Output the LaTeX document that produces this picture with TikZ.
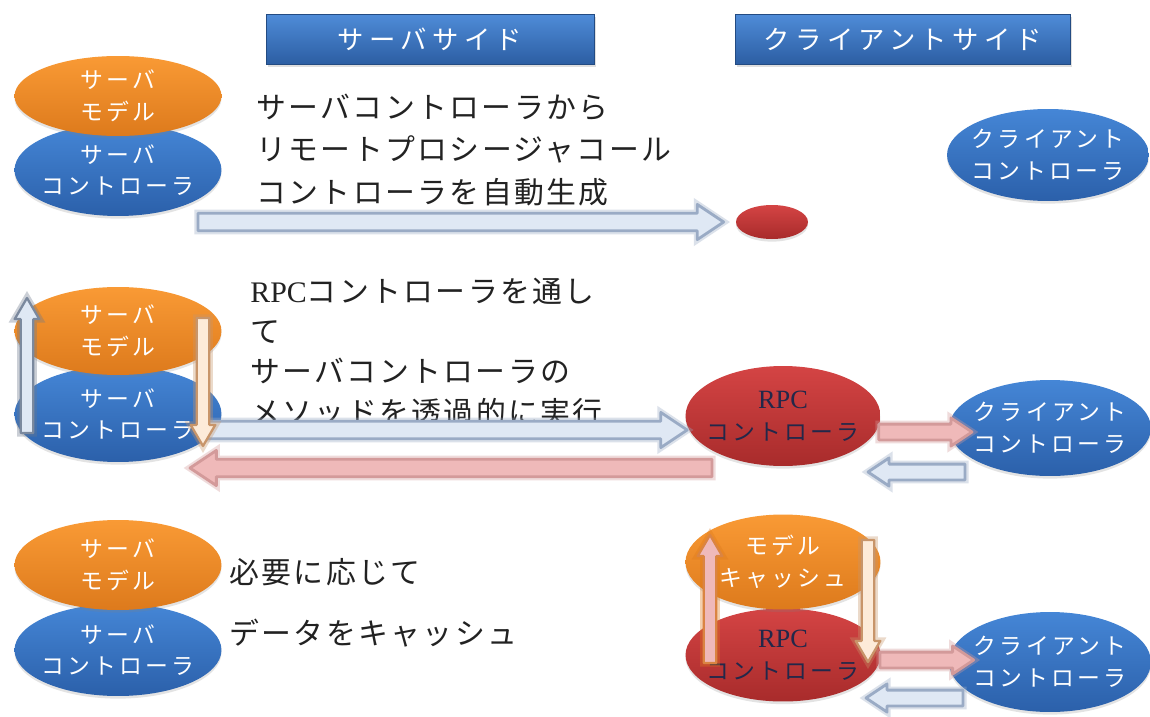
\documentclass[tikz,border=0pt]{standalone}
\usepackage{fontspec}
\setmainfont{Noto Sans CJK JP}
\newfontfamily\rpcfont{Liberation Serif}
\usetikzlibrary{calc,shapes.geometric,shadows}

\definecolor{orangeT}{HTML}{F99A35}
\definecolor{orangeB}{HTML}{DD7A1C}
\definecolor{blueT}{HTML}{4586D6}
\definecolor{blueB}{HTML}{2B60AA}
\definecolor{redT}{HTML}{D44444}
\definecolor{redB}{HTML}{A82B2B}
\definecolor{hdrT}{HTML}{4F8CD8}
\definecolor{hdrB}{HTML}{2C5EA3}
\definecolor{bluefill}{HTML}{DFE8F4}
\definecolor{blueline}{HTML}{9AABC5}
\definecolor{pinkfill}{HTML}{EFB9B9}
\definecolor{pinkline}{HTML}{D39A9A}
\definecolor{peachfill}{HTML}{FDEBD9}
\definecolor{peachline}{HTML}{C8956A}
\definecolor{navytext}{HTML}{22284A}
\definecolor{bodytext}{HTML}{222222}

\newcommand\ovalfont{\fontsize{13pt}{18pt}\selectfont\addfontfeature{LetterSpace=14}}
\newcommand\hdrfont{\fontsize{15pt}{18pt}\selectfont\addfontfeature{LetterSpace=20}}
\newcommand\bodyfontA{\fontsize{17pt}{24pt}\selectfont\addfontfeature{LetterSpace=8}}
\newcommand\bodyfontB{\fontsize{17pt}{22.8pt}\selectfont\addfontfeature{LetterSpace=8}}

% fat block arrow: #1 style, #2 from, #3 to, #4 shaft half width, #5 head half width, #6 head length (pt)
\newcommand\fatarrow[6]{%
  \draw[#1] let \p1=(#2), \p2=(#3), \n1={atan2(\y2-\y1,\x2-\x1)}, \n2={veclen(\x2-\x1,\y2-\y1)} in
    [shift={(\p1)}, rotate=\n1]
    (0pt,-#4pt) -- (\n2-#6pt,-#4pt) -- (\n2-#6pt,-#5pt) -- (\n2,0pt)
    -- (\n2-#6pt,#5pt) -- (\n2-#6pt,#4pt) -- (0pt,#4pt) -- cycle;
}

\tikzset{
  oval/.style={ellipse, inner xsep=-14pt, inner ysep=-4pt, align=center, font=\ovalfont,
    drop shadow={opacity=0.22, shadow xshift=0pt, shadow yshift=-1.5pt}},
  orangeoval/.style={oval, top color=orangeT, bottom color=orangeB, text=white},
  blueoval/.style={oval, top color=blueT, bottom color=blueB, text=white},
  redoval/.style={oval, top color=redT, bottom color=redB, text=navytext},
  header/.style={rectangle, top color=hdrT, bottom color=hdrB, draw=hdrB!80!black,
    line width=0.4pt, text=white, font=\hdrfont, minimum height=1cm,
    drop shadow={opacity=0.25, shadow xshift=1pt, shadow yshift=-1.5pt}},
  bodytxt/.style={anchor=west, align=left, text=bodytext, inner sep=0pt},
  halo/.style={preaction={draw=#1, line width=4pt, opacity=0.35}},
  bluearrow/.style={halo=blueline, fill=bluefill, draw=blueline, line width=1.6pt, line join=round},
  pinkarrow/.style={halo=pinkline, fill=pinkfill, draw=pinkline, line width=1.6pt, line join=round},
  peacharrow/.style={halo=peachline, fill=peachfill, draw=peachline, line width=1.3pt, line join=round},
  paleblue/.style={halo=blueline!70!black, fill=bluefill, draw=blueline!80!black, line width=1.3pt, line join=round},
  pinkup/.style={halo=orangeB, fill=pinkfill, draw=orangeB!70!pinkline, line width=1.3pt, line join=round},
}

\begin{document}
\begin{tikzpicture}[x=0.02cm, y=-0.02cm]
\useasboundingbox (0,0) rectangle (1150,717);
\fill[white] (0,0) rectangle (1150,717);

% headers
\node[header, minimum width=6.56cm] (hs) at (430,39) {サーバサイド};
\node[header, minimum width=6.7cm] (hc) at (903,39) {クライアントサイド};

% ---------- row 1 ----------
\node[blueoval, minimum width=4.14cm, minimum height=1.84cm] (sc1) at (118,170) {サーバ\\コントローラ};
\node[orangeoval, minimum width=4.14cm, minimum height=1.6cm] (sm1) at (118,96) {サーバ\\モデル};
\node[bodytxt, font=\bodyfontA] (t1) at (256,150) {サーバコントローラから\\リモートプロシージャコール\\コントローラを自動生成};
\node[redoval, minimum width=1.44cm, minimum height=0.68cm] (rpc0) at (772,222) {};
\node[blueoval, minimum width=4.04cm, minimum height=1.84cm] (cc1) at (1048,155) {クライアント\\コントローラ};
\coordinate (a1s) at (198,222);
\coordinate (a1e) at ($(rpc0.west)+(-12,0)$);
\fatarrow{bluearrow}{a1s}{a1e}{5}{10}{15}

% ---------- row 2 ----------
\node[blueoval, minimum width=4.14cm, minimum height=1.92cm] (sc2) at (118,414) {サーバ\\コントローラ};
\node[orangeoval, minimum width=4.14cm, minimum height=1.76cm] (sm2) at (118,331) {サーバ\\モデル};
\node[bodytxt, font=\bodyfontB] (t2) at (250,352) {{\rpcfont RPC}コントローラを通し\\て\\サーバコントローラの\\メソッドを透過的に実行};
\node[redoval, minimum width=3.9cm, minimum height=2cm] (rpc2) at (783,416) {{\rpcfont\fontsize{15pt}{18pt}\selectfont RPC}\\コントローラ};
\node[blueoval, minimum width=4.04cm, minimum height=1.92cm] (cc2) at (1050,428) {クライアント\\コントローラ};

\coordinate (a2s) at (205,430);
\coordinate (a2e) at ($(rpc2.west |- a2s)+(2,0)$);
\coordinate (a3s) at (712,468);
\coordinate (a3e) at (190,468);
\coordinate (a4s) at ($(rpc2.east)+(-2,16)$);
\coordinate (a4e) at (972,432);
\coordinate (a5s) at (965,472);
\coordinate (a5e) at (868,472);
\coordinate (u2s) at (27,433);
\coordinate (u2e) at (27,298);
\coordinate (d2s) at (203,318);
\coordinate (d2e) at (203,446);
\fatarrow{bluearrow}{a2s}{a2e}{5}{10}{15}
\fatarrow{pinkarrow}{a3s}{a3e}{5}{10}{15}
\fatarrow{pinkarrow}{a4s}{a4e}{4.5}{8}{12}
\fatarrow{bluearrow}{a5s}{a5e}{4.5}{8}{12}
\fatarrow{paleblue}{u2s}{u2e}{3.6}{7}{12}
\fatarrow{peacharrow}{d2s}{d2e}{3.6}{7}{12}

% ---------- row 3 ----------
\node[blueoval, minimum width=4.14cm, minimum height=1.84cm] (sc3) at (118,650) {サーバ\\コントローラ};
\node[orangeoval, minimum width=4.14cm, minimum height=1.8cm] (sm3) at (118,565) {サーバ\\モデル};
\node[bodytxt, font=\bodyfontA] (t3a) at (229,572) {必要に応じて};
\node[bodytxt, font=\bodyfontA] (t3b) at (229,633) {データをキャッシュ};
\node[redoval, minimum width=3.9cm, minimum height=1.86cm] (rpc3) at (783,655) {{\rpcfont\fontsize{15pt}{18pt}\selectfont RPC}\\コントローラ};
\node[orangeoval, minimum width=3.9cm, minimum height=1.9cm] (mc3) at (783,562) {モデル\\キャッシュ};
\node[blueoval, minimum width=4.04cm, minimum height=2cm] (cc3) at (1050,662) {クライアント\\コントローラ};

\coordinate (u3s) at (710,663);
\coordinate (u3e) at (710,535);
\coordinate (d3s) at (868,540);
\coordinate (d3e) at (868,662);
\coordinate (a6s) at (880,660);
\coordinate (a6e) at ($(cc3.west)+(25,-2)$);
\coordinate (a7s) at (963,698);
\coordinate (a7e) at (866,698);
\fatarrow{pinkup}{u3s}{u3e}{3.6}{7}{12}
\fatarrow{peacharrow}{d3s}{d3e}{3.6}{7}{12}
\fatarrow{pinkarrow}{a6s}{a6e}{4.5}{8}{12}
\fatarrow{bluearrow}{a7s}{a7e}{4.5}{8}{12}
\end{tikzpicture}
\end{document}
